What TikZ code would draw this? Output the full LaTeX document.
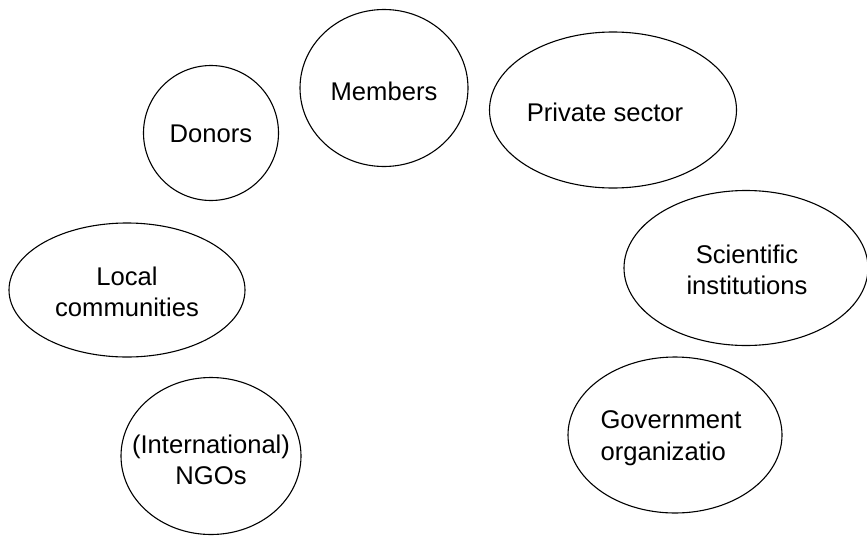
\documentclass[tikz,border=0pt]{standalone}
\usepackage{fontspec}
\setmainfont{Liberation Sans}
\usetikzlibrary{shapes.geometric}
\begin{document}
\begin{tikzpicture}[x=1pt,y=-1pt,
  oval/.style={draw=black, line width=1.1pt, ellipse, inner sep=0pt},
  lbl/.style={inner sep=0pt, align=center, font=\fontsize{25.6}{31.5}\selectfont}]
\useasboundingbox (0,0) rectangle (867,536);
% stakeholder ovals
\node[oval, minimum width=135, minimum height=135] (donors) at (211,133) {};
\node[oval, minimum width=168, minimum height=157] (members) at (384,88) {};
\node[oval, minimum width=247, minimum height=156] (private) at (613,110) {};
\node[oval, minimum width=244, minimum height=155] (science) at (746,268) {};
\node[oval, minimum width=214, minimum height=156] (gov) at (675,435) {};
\node[oval, minimum width=236, minimum height=134] (local) at (127,290) {};
\node[oval, minimum width=180, minimum height=157] (ngo) at (211,456) {};
% labels
\node[lbl] (tdonors) at (211,134) {Donors};
\node[lbl] (tmembers) at (384,91) {Members};
\node[lbl] (tprivate) at (605,112) {Private sector};
\node[lbl] (tscience) at (747,270) {Scientific\\institutions};
\node[lbl, align=left] (tgov) at (671,438) {Government\\organizatio};
\node[lbl] (tlocal) at (127,292) {Local\\communities};
\node[lbl] (tngo) at (211,460) {(International)\\NGOs};
\end{tikzpicture}
\end{document}
